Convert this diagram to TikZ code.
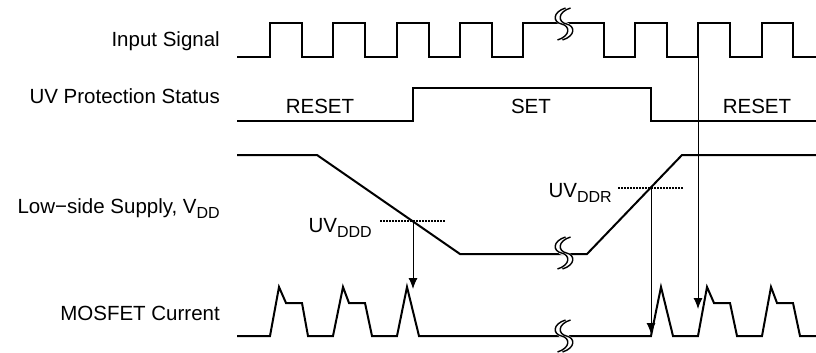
\documentclass[tikz,border=0pt]{standalone}
\usepackage{fontspec}
\setmainfont{Liberation Sans}
\usetikzlibrary{arrows.meta}
\newcommand{\subs}[1]{\raisebox{-5pt}{\fontsize{16pt}{16pt}\selectfont #1}}
\tikzset{
  wave/.style={line width=2pt, line join=miter},
  lbl/.style={inner sep=0pt, font=\fontsize{20.5pt}{24pt}\selectfont},
  thr/.style={line width=1.8pt, dash pattern=on 2pt off 1pt},
  arr/.style={line width=1pt, -{Latex[length=11pt,width=9pt]}},
  brk/.pic={
    \draw[white, line width=5pt] (4,-16) .. controls (-9,-12) and (-9,-2) .. (0,0) .. controls (9,2) and (9,12) .. (-4,16);
    \draw[line width=1.4pt] (1.5,-16) .. controls (-11.5,-12) and (-11.5,-2) .. (-2.5,0) .. controls (6.5,2) and (6.5,12) .. (-6.5,16);
    \draw[line width=1.4pt] (6.5,-16) .. controls (-6.5,-12) and (-6.5,-2) .. (2.5,0) .. controls (11.5,2) and (11.5,12) .. (-1.5,16);
  }
}
\begin{document}
\begin{tikzpicture}[x=1pt, y=-1pt]
\useasboundingbox (0,0) rectangle (816,353);
% labels
\node[lbl, anchor=base east] (lin) at (220,47) {Input Signal};
\node[lbl, anchor=base east] (luv) at (220,103) {UV Protection Status};
\node[lbl, anchor=base east] (lvdd) at (220,213) {Low−side Supply, V\subs{DD}};
\node[lbl, anchor=base east] (lmos) at (220,320) {MOSFET Current};
\node[lbl, anchor=base] (rs1) at (320,113) {RESET};
\node[lbl, anchor=base] (set) at (531,113) {SET};
\node[lbl, anchor=base] (rs2) at (757,113) {RESET};
\node[lbl, anchor=base east] (uvd) at (372,232) {UV\subs{DDD}};
\node[lbl, anchor=base east] (uvr) at (612,197) {UV\subs{DDR}};
% input signal
\draw[wave] (237,57) -- (270,57) -- (270,23) -- (302,23) -- (302,57) -- (333,57) -- (333,23) -- (365,23) -- (365,57) -- (397,57) -- (397,23) -- (429,23) -- (429,57) -- (460,57) -- (460,23) -- (492,23) -- (492,57) -- (523,57) -- (523,23) -- (604,23) -- (604,57) -- (635,57) -- (635,23) -- (667,23) -- (667,57) -- (698,57) -- (698,23) -- (730,23) -- (730,57) -- (762,57) -- (762,23) -- (793,23) -- (793,57) -- (817,57);
% UV status
\draw[wave] (237,121) -- (413,121) -- (413,88) -- (651,88) -- (651,121) -- (817,121);
% supply
\draw[wave] (237,155) -- (317,155) -- (460,254) -- (587,254) -- (682,155) -- (817,155);
% MOSFET current
\draw[wave] (237,336) -- (270,336) -- (279,287) -- (286,303) -- (302,303) -- (308,336) -- (333,336) -- (343,287) -- (349,303) -- (365,303) -- (372,336) -- (397,336) -- (407,287) -- (419,336) -- (651,336) -- (661,287) -- (673,336) -- (698,336) -- (707,287) -- (714,303) -- (730,303) -- (737,336) -- (762,336) -- (771,287) -- (777,303) -- (793,303) -- (800,336) -- (817,336);
% breaks
\pic at (564,24) {brk};
\pic at (564,253) {brk};
\pic at (564,336) {brk};
% thresholds
\coordinate (dA) at (380,221);
\coordinate (dB) at (445,221);
\coordinate (rA) at (618,188);
\coordinate (rB) at (683,188);
\draw[thr] (dA) -- (dB);
\draw[thr] (rA) -- (rB);
% arrows
\coordinate (x1) at (413,221);
\coordinate (y1) at (413,289);
\coordinate (x2) at (651,188);
\coordinate (y2) at (651,334);
\coordinate (x3) at (698,57);
\coordinate (y3) at (698,309);
\draw[arr] (x1) -- (y1);
\draw[arr] (x2) -- (y2);
\draw[arr] (x3) -- (y3);
\end{tikzpicture}
\end{document}
